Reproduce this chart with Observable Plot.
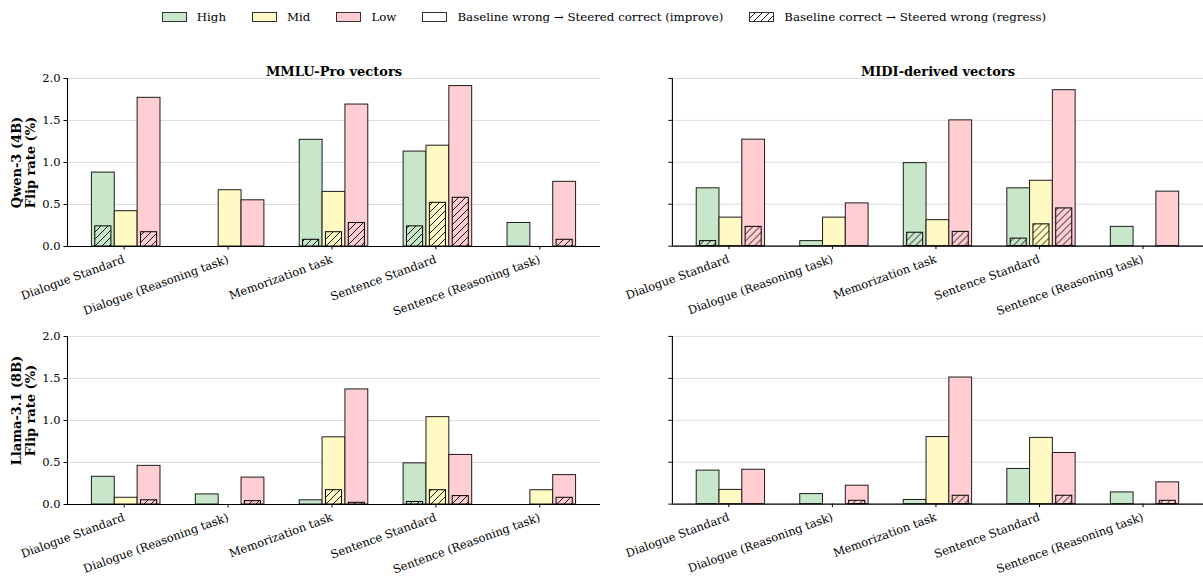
<!DOCTYPE html>
<html><head><meta charset="utf-8">
<script src="https://cdn.jsdelivr.net/npm/d3@7"></script>
<script src="https://cdn.jsdelivr.net/npm/@observablehq/plot@0.6"></script>
<style>
body{margin:0;background:#fff;font-family:"DejaVu Serif",serif;}
#fig{position:relative;width:1203px;height:576px;overflow:hidden;background:#fff;}
.panel{position:absolute;}
.panel svg{overflow:visible;background:transparent !important;}
#legend{position:absolute;top:10px;left:0;width:1208px;display:flex;justify-content:center;gap:26px;font-family:"DejaVu Serif",serif;font-size:11.8px;line-height:14px;color:#000;}
.item{display:flex;align-items:center;gap:10px;white-space:nowrap;}
.sw{width:23px;height:8px;border:1px solid #333;}
</style>
</head><body>
<svg width="0" height="0" style="position:absolute">
  <defs id="defs"></defs>
</svg>
<div id="fig">
  <div id="legend"></div>
</div>
<script>
// ---------- data ----------
const categories = ["Dialogue Standard", "Dialogue (Reasoning task)", "Memorization task", "Sentence Standard", "Sentence (Reasoning task)"];
const levels = ["High", "Mid", "Low"];
const levelColors = ["#c8e6c9", "#fff9c4", "#ffcdd2"];
const legendKinds = ["Baseline wrong \u2192 Steered correct (improve)", "Baseline correct \u2192 Steered wrong (regress)"];
const columnTitles = ["MMLU-Pro vectors", "MIDI-derived vectors"];
const rowLabels = ["Qwen-3 (4B)\nFlip rate (%)", "Llama-3.1 (8B)\nFlip rate (%)"];
const yTicks = [0, 0.5, 1.0, 1.5, 2.0];

// rows: High, Mid, Low ; columns: categories
const qwenMmluImprove = [
  [0.88, 0.00, 1.27, 1.13, 0.28],
  [0.42, 0.67, 0.65, 1.20, 0.00],
  [1.77, 0.55, 1.69, 1.91, 0.77]
];
const qwenMmluRegress = [
  [0.24, 0.00, 0.08, 0.24, 0.00],
  [0.00, 0.00, 0.17, 0.52, 0.00],
  [0.17, 0.00, 0.28, 0.58, 0.08]
];
const qwenMidiImprove = [
  [0.69, 0.06, 0.99, 0.69, 0.23],
  [0.34, 0.34, 0.31, 0.78, 0.00],
  [1.27, 0.51, 1.50, 1.86, 0.65]
];
const qwenMidiRegress = [
  [0.06, 0.00, 0.16, 0.09, 0.00],
  [0.00, 0.00, 0.00, 0.26, 0.00],
  [0.23, 0.00, 0.17, 0.45, 0.00]
];
const llamaMmluImprove = [
  [0.33, 0.12, 0.05, 0.49, 0.00],
  [0.08, 0.00, 0.80, 1.04, 0.17],
  [0.46, 0.32, 1.37, 0.59, 0.35]
];
const llamaMmluRegress = [
  [0.00, 0.00, 0.00, 0.03, 0.00],
  [0.00, 0.00, 0.17, 0.17, 0.00],
  [0.05, 0.04, 0.02, 0.10, 0.08]
];
const llamaMidiImprove = [
  [0.40, 0.12, 0.05, 0.42, 0.14],
  [0.17, 0.00, 0.80, 0.79, 0.00],
  [0.41, 0.22, 1.51, 0.61, 0.26]
];
const llamaMidiRegress = [
  [0.00, 0.00, 0.00, 0.00, 0.00],
  [0.00, 0.00, 0.00, 0.00, 0.00],
  [0.00, 0.04, 0.10, 0.10, 0.04]
];

// ---------- hatch patterns ----------
const defs = document.getElementById("defs");
const NS = "http://www.w3.org/2000/svg";
function makePattern(id, color) {
  const p = document.createElementNS(NS, "pattern");
  p.setAttribute("id", id);
  p.setAttribute("patternUnits", "userSpaceOnUse");
  p.setAttribute("width", 7); p.setAttribute("height", 7);
  const r = document.createElementNS(NS, "rect");
  r.setAttribute("width", 7); r.setAttribute("height", 7); r.setAttribute("fill", color);
  p.appendChild(r);
  const l = document.createElementNS(NS, "path");
  l.setAttribute("d", "M0,7L7,0M-1,1L1,-1M6,8L8,6");
  l.setAttribute("stroke", "#000"); l.setAttribute("stroke-width", 0.9);
  p.appendChild(l);
  defs.appendChild(p);
}
levelColors.forEach((c, j) => makePattern("hatch" + j, c));
makePattern("hatchW", "#fff");

// ---------- legend ----------
const legend = document.getElementById("legend");
function addItem(fill, label) {
  const it = document.createElement("div"); it.className = "item";
  const sw = document.createElement("div"); sw.className = "sw"; sw.style.background = fill;
  const tx = document.createElement("span"); tx.textContent = label;
  it.appendChild(sw); it.appendChild(tx); legend.appendChild(it);
}
levels.forEach((l, j) => addItem(levelColors[j], l));
addItem("#fff", legendKinds[0]);
{
  const it = document.createElement("div"); it.className = "item";
  const s = document.createElementNS(NS, "svg"); s.setAttribute("width", 25); s.setAttribute("height", 10);
  const r = document.createElementNS(NS, "rect");
  r.setAttribute("x", 0.5); r.setAttribute("y", 0.5); r.setAttribute("width", 24); r.setAttribute("height", 9);
  r.setAttribute("fill", "url(#hatchW)"); r.setAttribute("stroke", "#333");
  s.appendChild(r);
  const tx = document.createElement("span"); tx.textContent = legendKinds[1];
  it.appendChild(s); it.appendChild(tx); legend.appendChild(it);
}

// ---------- panels ----------
const barW = 0.22, hatchW = 0.155;
const offsets = [-barW, 0, barW];
const xDomain = [-0.565, 4.565];

function panel({improve, regress, title, ylabel, labelShift, showY, height, marginTop, marginBottom, width, marginLeft, marginRight}) {
  const rows = [], reg = [];
  levels.forEach((lv, j) => categories.forEach((c, i) => {
    rows.push({i, j, v: improve[j][i]});
    if (regress[j][i] > 0) reg.push({i, j, v: regress[j][i]});
  }));
  return Plot.plot({
    width, height, marginLeft, marginRight, marginTop, marginBottom,
    style: {fontFamily: "DejaVu Serif", fontSize: "11.5px", color: "#000", background: "transparent", overflow: "visible"},
    x: {domain: xDomain, axis: null},
    y: {domain: [0, 2], axis: null},
    marks: [
      Plot.gridY(yTicks, {stroke: "#dddddd", strokeOpacity: 1, strokeWidth: 1}),
      Plot.rectY(rows, {x1: d => d.i + offsets[d.j] - barW / 2, x2: d => d.i + offsets[d.j] + barW / 2,
        y1: 0, y2: "v", fill: d => levelColors[d.j], stroke: "#1c1c1c", strokeWidth: 1, insetLeft: 0, insetRight: 0}),
      Plot.rectY(reg, {x1: d => d.i + offsets[d.j] - hatchW / 2, x2: d => d.i + offsets[d.j] + hatchW / 2,
        y1: 0, y2: "v", fill: d => `url(#hatch${d.j})`, stroke: "#000", strokeWidth: 1}),
      Plot.ruleY([0], {stroke: "#000", strokeWidth: 1.1}),
      Plot.ruleX([xDomain[0]], {y1: 0, y2: 2, stroke: "#000", strokeWidth: 1.1}),
      Plot.axisX({ticks: d3.range(categories.length), tickFormat: i => categories[i], tickRotate: -20,
        tickSize: 3.5, tickPadding: 9, dx: -2, fontSize: 11.5, label: null}),
      Plot.axisY({ticks: yTicks, tickFormat: showY ? d3.format(".1f") : () => "", tickSize: 3.5, tickPadding: 3.5, fontSize: 11.5, label: null}),
      Plot.text([title || ""], {frameAnchor: "top", dy: -12, fontWeight: "bold", fontSize: 13, text: d => d}),
      ylabel ? Plot.text([ylabel], {frameAnchor: "left", textAnchor: "middle", rotate: -90, dx: -44, dy: labelShift, fontWeight: "bold", fontSize: 13, text: d => d, lineHeight: 1.05}) : null
    ]
  });
}

const fig = document.getElementById("fig");
function place(el, left, top) {
  const d = document.createElement("div"); d.className = "panel";
  d.style.left = left + "px"; d.style.top = top + "px";
  d.appendChild(el); fig.appendChild(d);
}
const L = {width: 602, marginLeft: 67, marginRight: 2};
const R = {width: 600, marginLeft: 68, marginRight: 0};
const T = {height: 258, marginTop: 38, marginBottom: 52};
const B = {height: 278, marginTop: 38, marginBottom: 72};

place(panel({improve: qwenMmluImprove, regress: qwenMmluRegress, title: columnTitles[0], ylabel: rowLabels[0], labelShift: 0, showY: true, ...L, ...T}), 0, 40);
place(panel({improve: qwenMidiImprove, regress: qwenMidiRegress, title: columnTitles[1], ylabel: null, showY: false, ...R, ...T}), 604, 40);
place(panel({improve: llamaMmluImprove, regress: llamaMmluRegress, title: "", ylabel: rowLabels[1], labelShift: -10, showY: true, ...L, ...B}), 0, 298);
place(panel({improve: llamaMidiImprove, regress: llamaMidiRegress, title: "", ylabel: null, showY: false, ...R, ...B}), 604, 298);
</script>
</body></html>
